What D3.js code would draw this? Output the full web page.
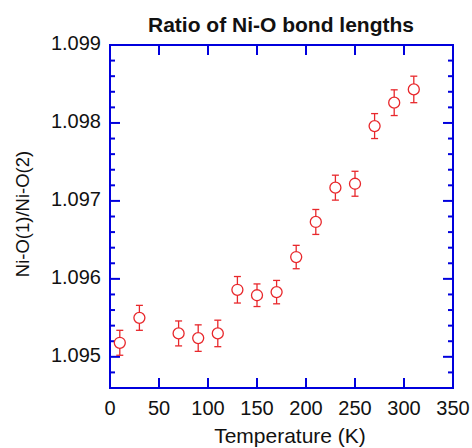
<!DOCTYPE html>
<html>
<head>
<meta charset="utf-8">
<script src="https://cdn.jsdelivr.net/npm/d3@7"></script>
<style>
  html, body { margin: 0; padding: 0; background: #fff; }
  svg { display: block; font-family: "Liberation Sans", Arial, sans-serif; }
</style>
</head>
<body>
<div id="chart"></div>
<script>
  // data
  const temperature = [10, 30, 70, 90, 110, 130, 150, 170, 190, 210, 230, 250, 270, 290, 310];
  const ratio = [1.09518, 1.09550, 1.09530, 1.09524, 1.09530, 1.09586, 1.09579, 1.09583,
                 1.09628, 1.09673, 1.09717, 1.09722, 1.09796, 1.09826, 1.09843];
  const ratioErr = [0.00016, 0.00016, 0.00016, 0.00017, 0.00017, 0.00017, 0.000145, 0.00015,
                    0.00015, 0.00016, 0.00016, 0.00016, 0.00016, 0.000165, 0.00017];
  const xTicks = [0, 50, 100, 150, 200, 250, 300, 350];
  const yTicks = [1.095, 1.096, 1.097, 1.098, 1.099];
  const yMinor = [1.0948, 1.0952, 1.0954, 1.0956, 1.0958, 1.0962, 1.0964, 1.0966, 1.0968,
                  1.0972, 1.0974, 1.0976, 1.0978, 1.0982, 1.0984, 1.0986, 1.0988];

  const width = 472, height = 448;
  const margin = { top: 45, right: 19, bottom: 60, left: 110 };
  const innerW = width - margin.left - margin.right;
  const innerH = height - margin.top - margin.bottom;

  const axisColor = "#0000dd";
  const markColor = "#e8282c";

  const svg = d3.select("#chart").append("svg")
    .attr("width", width)
    .attr("height", height);

  const g = svg.append("g").attr("transform", `translate(${margin.left},${margin.top})`);

  const x = d3.scaleLinear().domain([0, 350]).range([0, innerW]);
  const y = d3.scaleLinear().domain([1.0946, 1.099]).range([innerH, 0]);

  // tick marks (inward, on all four sides)
  const tickG = g.append("g").attr("stroke", axisColor).attr("stroke-width", 2);
  xTicks.slice(1, -1).forEach(t => {
    tickG.append("line").attr("x1", x(t)).attr("x2", x(t)).attr("y1", innerH).attr("y2", innerH - 10);
    tickG.append("line").attr("x1", x(t)).attr("x2", x(t)).attr("y1", 0).attr("y2", 10);
  });
  yTicks.forEach(t => {
    tickG.append("line").attr("x1", 0).attr("x2", 10).attr("y1", y(t)).attr("y2", y(t));
    tickG.append("line").attr("x1", innerW).attr("x2", innerW - 10).attr("y1", y(t)).attr("y2", y(t));
  });
  yMinor.forEach(t => {
    tickG.append("line").attr("x1", 0).attr("x2", 5).attr("y1", y(t)).attr("y2", y(t));
    tickG.append("line").attr("x1", innerW).attr("x2", innerW - 5).attr("y1", y(t)).attr("y2", y(t));
  });

  // frame
  g.append("rect")
    .attr("width", innerW).attr("height", innerH)
    .attr("fill", "none")
    .attr("stroke", axisColor)
    .attr("stroke-width", 2);

  // tick labels
  g.append("g").selectAll("text")
    .data(xTicks).enter().append("text")
    .attr("x", d => x(d))
    .attr("y", innerH + 27)
    .attr("text-anchor", "middle")
    .attr("font-size", 20)
    .attr("fill", "#111")
    .text(d => d);

  g.append("g").selectAll("text")
    .data(yTicks).enter().append("text")
    .attr("x", -9)
    .attr("y", d => y(d) - 2)
    .attr("dy", "0.35em")
    .attr("text-anchor", "end")
    .attr("font-size", 20)
    .attr("fill", "#111")
    .text(d => d3.format(".3f")(d));

  // error bars
  const pts = temperature.map((t, i) => ({ t, v: ratio[i], e: ratioErr[i] }));
  const eb = g.append("g").attr("stroke", markColor).attr("stroke-width", 1.3);
  pts.forEach(d => {
    const cx = x(d.t);
    eb.append("line").attr("x1", cx).attr("x2", cx).attr("y1", y(d.v + d.e)).attr("y2", y(d.v) - 5.5);
    eb.append("line").attr("x1", cx).attr("x2", cx).attr("y1", y(d.v) + 5.5).attr("y2", y(d.v - d.e));
    eb.append("line").attr("x1", cx - 3.5).attr("x2", cx + 3.5).attr("y1", y(d.v + d.e)).attr("y2", y(d.v + d.e));
    eb.append("line").attr("x1", cx - 3.5).attr("x2", cx + 3.5).attr("y1", y(d.v - d.e)).attr("y2", y(d.v - d.e));
  });

  g.append("g").selectAll("circle")
    .data(pts).enter().append("circle")
    .attr("cx", d => x(d.t))
    .attr("cy", d => y(d.v))
    .attr("r", 5.5)
    .attr("fill", "none")
    .attr("stroke", markColor)
    .attr("stroke-width", 1.3);

  // titles
  svg.append("text")
    .attr("x", 281)
    .attr("y", 32)
    .attr("text-anchor", "middle")
    .attr("font-size", 21)
    .attr("font-weight", "bold")
    .attr("fill", "#111")
    .text("Ratio of Ni-O bond lengths");

  svg.append("text")
    .attr("x", 290)
    .attr("y", 443)
    .attr("text-anchor", "middle")
    .attr("font-size", 21)
    .attr("fill", "#111")
    .text("Temperature (K)");

  svg.append("text")
    .attr("transform", "translate(29,214) rotate(-90)")
    .attr("text-anchor", "middle")
    .attr("font-size", 18.5)
    .attr("fill", "#111")
    .text("Ni-O(1)/Ni-O(2)");
</script>
</body>
</html>
